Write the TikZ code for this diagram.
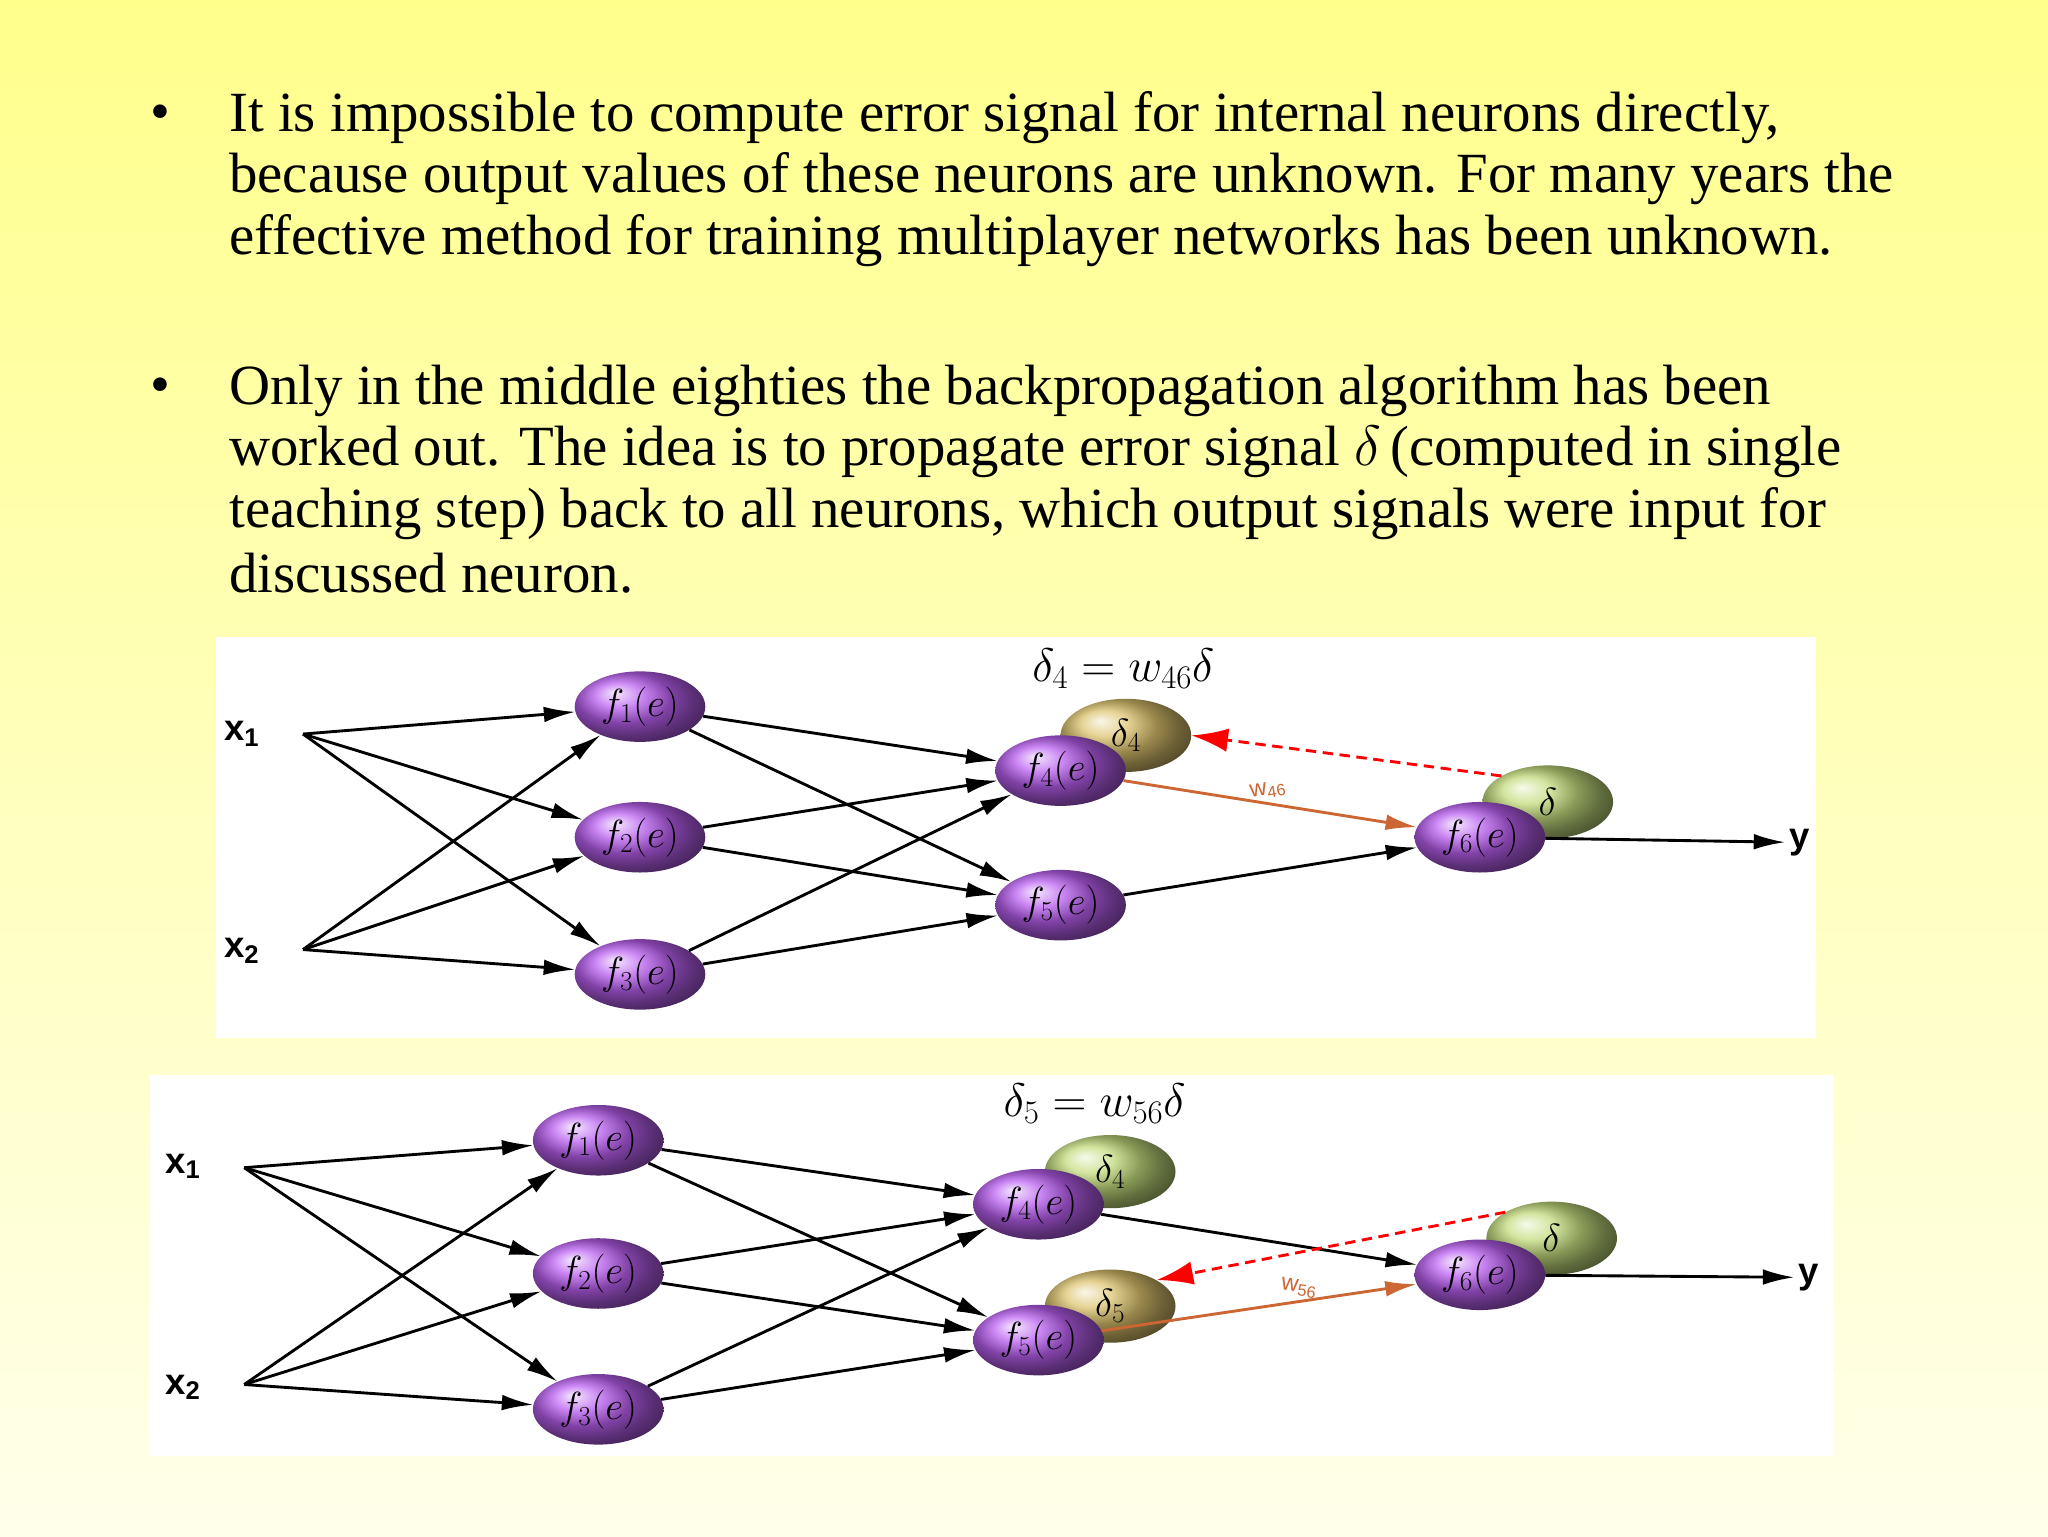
\documentclass[tikz,border=0pt]{standalone}
\usepackage{fix-cm}
\usepackage{fontspec}
\setmainfont{Liberation Serif}
\newfontfamily\labfont{Liberation Sans}
\usetikzlibrary{shapes.geometric,arrows.meta}
\definecolor{neurcol}{RGB}{185,95,240}
\definecolor{olivecol}{RGB}{220,195,110}
\definecolor{greencol}{RGB}{195,220,125}
\tikzset{
  neuron/.style={ellipse,minimum width=100,minimum height=54,shading=ball,ball color=neurcol,font=\fontsize{30}{30}\selectfont},
  dball/.style={ellipse,minimum width=100,minimum height=56,shading=ball,font=\fontsize{30}{30}\selectfont},
  inlab/.style={font=\labfont\bfseries\fontsize{28}{28}\selectfont},
  syn/.style={-{Latex[length=24,width=12]},line width=2.2},
  back/.style={red,dash pattern=on 8 off 5,line width=2.2,-{Latex[length=28,width=18]}},
  para/.style={anchor=west,font=\fontsize{43.5}{47}\selectfont},
  ttl/.style={font=\fontsize{36}{36}\selectfont}
}
\begin{document}
\begin{tikzpicture}[x=1pt,y=1pt,yscale=-1]
\useasboundingbox (0,0) rectangle (1568,1176);
\shade[top color=yellow!45,bottom color=yellow!8] (0,0) rectangle (1568,1176);
%text
\node[para] at (112,90) {•};
\node[para] (l1) at (172,90) {It is impossible to compute error signal for internal neurons directly,};
\node[para] at (172,137) {because output values of these neurons are unknown. For many years the};
\node[para] at (172,184) {effective method for training multiplayer networks has been unknown.};
\node[para] at (112,299) {•};
\node[para] at (172,299) {Only in the middle eighties the backpropagation algorithm has been};
\node[para] at (172,346) {worked out. The idea is to propagate error signal $\delta$\,(computed in single};
\node[para] at (172,393) {teaching step) back to all neurons, which output signals were input for};
\node[para] at (172,439) {discussed neuron.};
%top diagram
\fill[white] (165,488) rectangle (1390,795);
\node[ttl] (t1) at (860,512) {$\delta_4 = w_{46}\delta$};
\node[dball,ball color=olivecol] (d4) at (862,563) {$\delta_4$};
\node[dball,ball color=greencol] (d6) at (1185,614) {$\delta$};
\node[neuron] (a1) at (490,541) {$f_1(e)$};
\node[neuron] (a2) at (490,641) {$f_2(e)$};
\node[neuron] (a3) at (490,746) {$f_3(e)$};
\node[neuron] (a4) at (812,590) {$f_4(e)$};
\node[neuron] (a5) at (812,693) {$f_5(e)$};
\node[neuron] (a6) at (1133,641) {$f_6(e)$};
\node[inlab] (ax1) at (185,562) {x\textsubscript{1}};
\node[inlab] (ax2) at (185,728) {x\textsubscript{2}};
\node[inlab] (ay) at (1378,645) {y};
\coordinate (ai1) at (232,562);
\coordinate (ai2) at (232,727);
\foreach \i in {1,2} \foreach \j in {1,2,3} \draw[syn] (ai\i) -- (a\j);
\foreach \i in {1,2,3} \foreach \j in {4,5} \draw[syn] (a\i) -- (a\j);
\draw[syn,brown!80!red] (a4) -- node[above,sloped,font=\labfont\fontsize{18}{18}\selectfont] {w\textsubscript{46}} (a6);
\draw[syn] (a5) -- (a6);
\draw[syn] (a6) -- (ay);
\draw[back] (d6.north west) -- (d4.east);
%bottom diagram
\fill[white] (115,823) rectangle (1403,1115);
\node[ttl] (t2) at (838,845) {$\delta_5 = w_{56}\delta$};
\node[dball,ball color=greencol] (b4d) at (850,897) {$\delta_4$};
\node[dball,ball color=olivecol] (b5d) at (850,1000) {$\delta_5$};
\node[dball,ball color=greencol] (b6d) at (1188,948) {$\delta$};
\node[neuron] (b1) at (458,873) {$f_1(e)$};
\node[neuron] (b2) at (458,975) {$f_2(e)$};
\node[neuron] (b3) at (458,1079) {$f_3(e)$};
\node[neuron] (b4) at (795,922) {$f_4(e)$};
\node[neuron] (b5) at (795,1026) {$f_5(e)$};
\node[neuron] (b6) at (1133,976) {$f_6(e)$};
\node[inlab] (bx1) at (140,893) {x\textsubscript{1}};
\node[inlab] (bx2) at (140,1062) {x\textsubscript{2}};
\node[inlab] (by) at (1385,978) {y};
\coordinate (bi1) at (187,894);
\coordinate (bi2) at (187,1060);
\foreach \i in {1,2} \foreach \j in {1,2,3} \draw[syn] (bi\i) -- (b\j);
\foreach \i in {1,2,3} \foreach \j in {4,5} \draw[syn] (b\i) -- (b\j);
\draw[syn] (b4) -- (b6);
\draw[syn,brown!80!red] (b5) -- node[pos=0.62,above,sloped,font=\labfont\fontsize{18}{18}\selectfont] {w\textsubscript{56}} (b6);
\draw[syn] (b6) -- (by);
\draw[back] (b6d.north west) -- (b5d.north east);
\end{tikzpicture}
\end{document}
